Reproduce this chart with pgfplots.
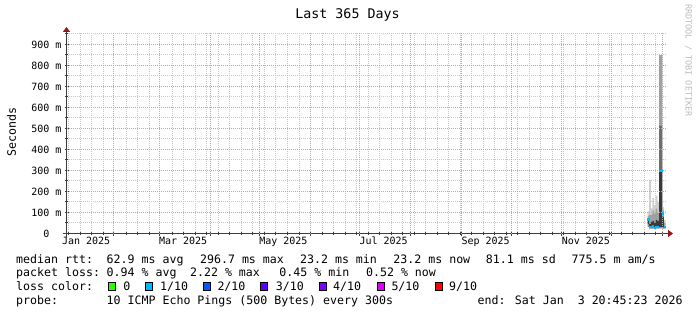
\documentclass[border=0pt]{standalone}
\usepackage{pgfplots}
\pgfplotsset{compat=1.18}
\usepackage{pgfplotstable}
\usepackage{fontspec}
\setmainfont{DejaVu Sans Mono}
\setmonofont{DejaVu Sans Mono}
\usetikzlibrary{arrows.meta}
\definecolor{gridminor}{HTML}{C8C8C8}
\definecolor{gridmajor}{HTML}{EC9494}
\definecolor{arrowred}{HTML}{8B1A1A}
\definecolor{axisgrey}{HTML}{3C3C3C}
\definecolor{sA}{HTML}{8C8C8C}
\definecolor{sB}{HTML}{3A3A3A}
\definecolor{sC}{HTML}{6E6E6E}
\definecolor{sD}{HTML}{A0A0A0}
\definecolor{sE}{HTML}{CFCFCF}
\definecolor{med}{HTML}{00B8FF}
\definecolor{lc0}{HTML}{26FF00}
\definecolor{lc1}{HTML}{00B8FF}
\definecolor{lc2}{HTML}{0059FF}
\definecolor{lc3}{HTML}{5E00FF}
\definecolor{lc4}{HTML}{7E00FF}
\definecolor{lc5}{HTML}{DD00FF}
\definecolor{lc9}{HTML}{FF0000}
\definecolor{wm}{HTML}{BDBDBD}

% smoke bands: day (since 1 Jan 2025), min (base), then stacked increments A..E (seconds)
\pgfplotstableread{
day   base  A     B     C     D     E
356.5 0.030 0.015 0.025 0     0.015 0.020
357.5 0.023 0.005 0.017 0     0.045 0.164
358.5 0.023 0.005 0.027 0     0.035 0.030
359.5 0.023 0.007 0.030 0     0.050 0.058
360.5 0.023 0.005 0.022 0     0.045 0.040
361.5 0.023 0.007 0.035 0     0.055 0.060
362.5 0.023 0.007 0.030 0     0.040 0.050
363.5 0.025 0.005 0.267 0.218 0.335 0
364.5 0.025 0.005 0.267 0.218 0.335 0
365.5 0.023 0.005 0.052 0     0.030 0.017
366.5 0.023 0.003 0.009 0     0.015 0.015
}\smoke

% median rtt (seconds)
\pgfplotstableread{
day   median
356.5 0.067
357.5 0.030
358.5 0.030
359.5 0.035
360.5 0.028
361.5 0.032
362.5 0.030
363.5 0.297
364.5 0.297
365.5 0.095
366.5 0.030
}\medians

\newcommand{\lgfont}{\fontsize{11.6bp}{14bp}\selectfont}
\newcommand{\lgd}[3]{\node[anchor=base west, inner sep=0pt, font=\lgfont] at (#1,-#2) {#3};}
\newcommand{\lbox}[3]{\filldraw[fill=#3, draw=black, line width=0.8bp] (#1,-#2) rectangle ++(7,-7.5);}
\tikzset{majgrid/.style={draw=gridmajor, dash pattern=on 1bp off 1bp, line width=1bp}}

\begin{document}
\begin{tikzpicture}[x=1bp,y=1bp]
\begin{scope}[shift={(-67,233.5)}]
\path[fill=white] (0,0) rectangle (697,-315);
\end{scope}
\begin{axis}[
  scale only axis, width=600bp, height=200.55bp,
  xmin=2.865, xmax=367.865, ymin=0, ymax=0.955,
  axis x line*=bottom, axis y line*=left,
  axis line style={axisgrey, line width=1bp},
  x axis line style={shorten <=-4bp, shorten >=-6bp, -{Triangle[length=5bp,width=7bp,color=arrowred]}},
  y axis line style={xshift=-0.5bp, shorten <=-3bp, shorten >=-6bp, -{Triangle[length=5bp,width=7bp,color=arrowred]}},
  xtick={31.152,59.136,90.161,119.969,150.994,180.803,211.828,242.853,273.269,303.682,334.103,365.128},
  xticklabels={},
  minor xtick={3.777,11.077,17.769,25.069,39.061,45.752,53.052,67.044,73.736,81.036,87.727,95.027,101.719,109.019,115.710,123.011,129.703,137.002,144.302,158.294,164.985,172.286,178.977,186.277,192.969,200.269,206.960,214.261,220.953,228.252,234.944,242.244,248.936,256.236,262.928,270.228,276.919,284.219,290.911,298.211,304.903,312.203,318.894,326.194,332.886,340.186,346.877,354.178,360.869},
  extra x ticks={14.5,73.5,134.5,195.5,257.5,318.5},
  extra x tick labels={Jan 2025,Mar 2025,May 2025,Jul 2025,Sep 2025,Nov 2025},
  extra x tick style={grid=none, major tick length=0pt},
  ytick={0,0.1,0.2,0.3,0.4,0.5,0.6,0.7,0.8,0.9},
  yticklabels={0\phantom{xx},100 m,200 m,300 m,400 m,500 m,600 m,700 m,800 m,900 m},
  minor ytick={0.05238,0.15238,0.25238,0.35238,0.45238,0.55238,0.65238,0.75238,0.85238,0.95238},
  scaled y ticks=false,
  grid=minor,
  minor grid style={gridminor, dash pattern=on 1bp off 1bp, line width=1bp},
  tick style={axisgrey, line width=1bp},
  tick align=center, major tick length=4bp, minor tick length=3bp,
  tick label style={font=\fontsize{10bp}{12bp}\selectfont, text=black},
  xticklabel style={anchor=base, yshift=-11bp},
  yticklabel style={anchor=east},
  ybar stacked, bar width=1,
]
% major grid (month starts, every 100 m)
\pgfplotsinvokeforeach{31.152,59.136,90.161,119.969,150.994,180.803,211.828,242.853,273.269,303.682,334.103,365.128}{
  \draw[majgrid] (axis cs:#1,0) -- (axis cs:#1,0.955);
}
\pgfplotsinvokeforeach{0.1,0.2,0.3,0.4,0.5,0.6,0.7,0.8,0.9}{
  \draw[majgrid] (axis cs:2.865,#1) -- (axis cs:367.865,#1);
}
\addplot[fill=none, draw=none] table[x=day, y=base] {\smoke};
\addplot[fill=sA, draw=none] table[x=day, y=A] {\smoke};
\addplot[fill=sB, draw=none] table[x=day, y=B] {\smoke};
\addplot[fill=sC, draw=none] table[x=day, y=C] {\smoke};
\addplot[fill=sD, draw=none] table[x=day, y=D] {\smoke};
\addplot[fill=sE, draw=none] table[x=day, y=E] {\smoke};
\end{axis}
\begin{axis}[
  scale only axis, width=600bp, height=200.55bp,
  xmin=2.865, xmax=367.865, ymin=0, ymax=0.955,
  hide axis,
]
\addplot[only marks, mark=-, mark size=1.2bp, mark options={line width=2.2bp, draw=med}] table[x=day, y=median] {\medians};
\end{axis}

\begin{scope}[shift={(-67,233.5)}]
% title, axis label, watermark
\node[anchor=base, font=\fontsize{13.3bp}{15bp}\selectfont] at (347.5,-18.3) {Last 365 Days};
\node[rotate=90, font=\fontsize{11.6bp}{14bp}\selectfont] at (11.5,-132.2) {Seconds};
\node[rotate=-90, text=wm, font=\fontsize{8.5bp}{10bp}\selectfont] at (688.3,-60.5) {RRDTOOL / TOBI OETIKER};

% legend
\lgd{16}{263.3}{median rtt:}
\lgd{106.5}{263.3}{62.9 ms avg}
\lgd{199.9}{263.3}{296.7 ms max}
\lgd{299.9}{263.3}{23.2 ms min}
\lgd{393.2}{263.3}{23.2 ms now}
\lgd{485.7}{263.3}{81.1 ms sd}
\lgd{571.5}{263.3}{775.5 m am/s}

\lgd{16}{276.8}{packet loss:}
\lgd{106.5}{276.8}{0.94 \% avg}
\lgd{189.9}{276.8}{2.22 \% max}
\lgd{279.2}{276.8}{0.45 \% min}
\lgd{365.9}{276.8}{0.52 \% now}

\lgd{16}{290.7}{loss color:}
\lbox{108.8}{282.8}{lc0}\lgd{123.3}{290.7}{0}
\lbox{145.8}{282.8}{lc1}\lgd{160}{290.7}{1/10}
\lbox{203.1}{282.8}{lc2}\lgd{217.3}{290.7}{2/10}
\lbox{260.8}{282.8}{lc3}\lgd{275.7}{290.7}{3/10}
\lbox{319.1}{282.8}{lc4}\lgd{333}{290.7}{4/10}
\lbox{377.5}{282.8}{lc5}\lgd{391.3}{290.7}{5/10}
\lbox{435.5}{282.8}{lc9}\lgd{449}{290.7}{9/10}

\lgd{16}{304}{probe:}
\lgd{106.5}{304}{10 ICMP Echo Pings (500 Bytes) every 300s}
\lgd{477.5}{304}{end: Sat Jan\ \ 3 20:45:23 2026}
\end{scope}
\end{tikzpicture}
\end{document}
